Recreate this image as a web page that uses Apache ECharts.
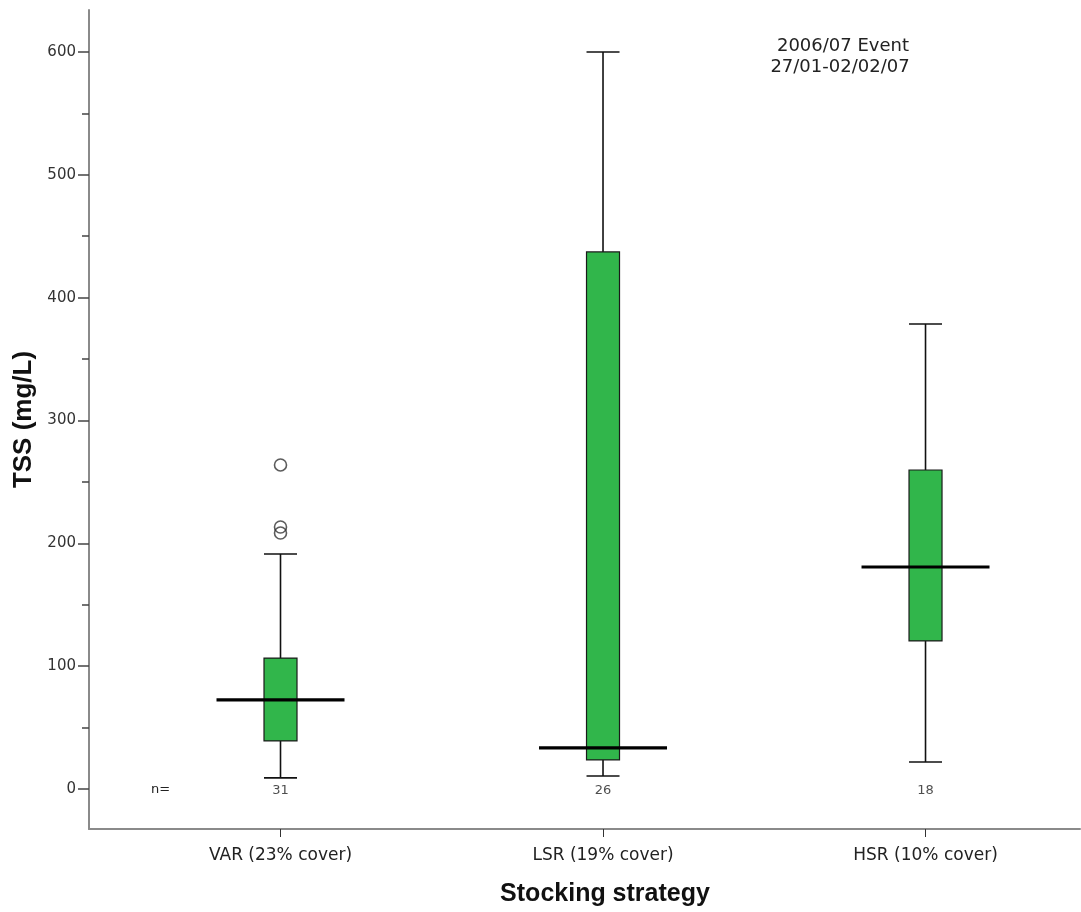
<!DOCTYPE html>
<html>
<head>
<meta charset="utf-8">
<title>TSS by stocking strategy</title>
<script src="https://cdn.jsdelivr.net/npm/echarts@6/dist/echarts.min.js"></script>
<style>
  html, body { margin: 0; padding: 0; background: #fff; }
  #chart { width: 1081px; height: 912px; }
</style>
</head>
<body>
<div id="chart"></div>
<script>
// Stocking strategies (x positions 1..3)
const categories = ['VAR (23% cover)', 'LSR (19% cover)', 'HSR (10% cover)'];
// Box statistics per strategy: [lower whisker, Q1, median, Q3, upper whisker] in mg/L
const boxStats = [
  [9.0, 39.1, 72.5, 106.6, 191.3],
  [10.6, 23.6, 33.4, 437.2, 600],
  [22.0, 120.5, 180.7, 259.7, 378.6]
];
// Outliers: [strategy index, value]
const outliers = [
  [0, 263.8],
  [0, 213.3],
  [0, 208.4]
];
// Sample sizes
const counts = [31, 26, 18];
// Y axis ticks
const majorTicks = [0, 100, 200, 300, 400, 500, 600];
const minorTicks = [50, 150, 250, 350, 450, 550];

const chart = echarts.init(document.getElementById('chart'));

const BOX_W = 33;      // box width in px
const MED_W = 128;     // median bar width in px
const TEXT_FONT = '"DejaVu Sans", Verdana, sans-serif';
const TITLE_FONT = '"Liberation Sans", Arial, sans-serif';

function renderBox(params, api) {
  const x = api.value(0);
  const lo = api.coord([x, api.value(1)]);
  const q1 = api.coord([x, api.value(2)]);
  const q3 = api.coord([x, api.value(4)]);
  const hi = api.coord([x, api.value(5)]);
  const cx = lo[0];
  const half = BOX_W / 2;
  const lineStyle = { stroke: '#111', lineWidth: 1.6 };
  return {
    type: 'group',
    children: [
      { type: 'line', shape: { x1: cx, y1: hi[1], x2: cx, y2: q3[1] }, style: lineStyle },
      { type: 'line', shape: { x1: cx, y1: q1[1], x2: cx, y2: lo[1] }, style: lineStyle },
      { type: 'line', shape: { x1: cx - half, y1: hi[1], x2: cx + half, y2: hi[1] }, style: lineStyle },
      { type: 'line', shape: { x1: cx - half, y1: lo[1], x2: cx + half, y2: lo[1] }, style: lineStyle },
      { type: 'rect', shape: { x: cx - half, y: q3[1], width: BOX_W, height: q1[1] - q3[1] },
        style: { fill: '#31b64b', stroke: '#1a1a1a', lineWidth: 1.2 } }
    ]
  };
}

function renderMedian(params, api) {
  const p = api.coord([api.value(0), api.value(1)]);
  return {
    type: 'line',
    shape: { x1: p[0] - MED_W / 2, y1: p[1], x2: p[0] + MED_W / 2, y2: p[1] },
    style: { stroke: '#000', lineWidth: 3.2 }
  };
}

const boxData = boxStats.map((s, i) => [i + 1, s[0], s[1], s[2], s[3], s[4]]);
const medianData = boxStats.map((s, i) => [i + 1, s[2]]);
const outlierData = outliers.map(o => [o[0] + 1, o[1]]);
const countData = counts.map((n, i) => ({ value: [i + 1, -1], n: n }));

const option = {
  animation: false,
  backgroundColor: '#fff',
  grid: { left: 89, right: 1, top: 10, bottom: 83, containLabel: false },
  xAxis: {
    type: 'value',
    min: 0.4062,
    max: 3.479,
    axisLine: { show: true, onZero: false, lineStyle: { color: '#8a8a8a', width: 2 } },
    axisTick: { show: true, length: 8, lineStyle: { color: '#333', width: 1 }, customValues: [1, 2, 3] },
    axisLabel: {
      customValues: [1, 2, 3],
      margin: 18,
      fontFamily: TEXT_FONT, fontSize: 17, color: '#222',
      formatter: v => categories[Math.round(v) - 1] || ''
    },
    splitLine: { show: false }
  },
  yAxis: [{
    type: 'value',
    min: -32.6,
    max: 634.2,
    name: 'TSS (mg/L)',
    nameLocation: 'middle',
    nameGap: 49,
    nameRotate: 90,
    nameTextStyle: { fontFamily: TITLE_FONT, fontSize: 26, fontWeight: 'bold', color: '#111' },
    axisLine: { show: true, onZero: false, lineStyle: { color: '#8a8a8a', width: 2 } },
    axisTick: { show: true, length: 11, lineStyle: { color: '#444', width: 1.5 }, customValues: majorTicks },
    axisLabel: { customValues: majorTicks, margin: 13, fontFamily: TEXT_FONT, fontSize: 15, color: '#333' },
    splitLine: { show: false }
  }, {
    type: 'value',
    min: -32.6,
    max: 634.2,
    position: 'left',
    axisLine: { show: false },
    axisTick: { show: true, length: 7, lineStyle: { color: '#444', width: 1.5 }, customValues: minorTicks },
    axisLabel: { show: false },
    splitLine: { show: false }
  }],
  series: [
    {
      type: 'custom',
      renderItem: renderBox,
      data: boxData,
      encode: { x: 0, y: [1, 2, 3, 4, 5] },
      z: 2
    },
    {
      type: 'custom',
      renderItem: renderMedian,
      data: medianData,
      encode: { x: 0, y: 1 },
      z: 3
    },
    {
      type: 'scatter',
      data: outlierData,
      symbol: 'circle',
      symbolSize: 12,
      itemStyle: { color: 'rgba(255,255,255,0)', borderColor: '#333', borderWidth: 1.6 },
      z: 4
    },
    {
      type: 'scatter',
      data: countData,
      symbolSize: 0,
      silent: true,
      label: {
        show: true, position: 'inside',
        fontFamily: TEXT_FONT, fontSize: 13, color: '#222',
        formatter: p => String(p.data.n)
      },
      z: 5
    }
  ],
  graphic: [
    { type: 'text', left: 151, top: 783,
      style: { text: 'n=', font: '13px ' + TEXT_FONT, fill: '#222' } },
    { type: 'text', x: 843, y: 37,
      style: { text: '2006/07 Event', font: '18px ' + TEXT_FONT, fill: '#222', textAlign: 'center' } },
    { type: 'text', x: 840, y: 58,
      style: { text: '27/01-02/02/07', font: '18px ' + TEXT_FONT, fill: '#222', textAlign: 'center' } },
    // x axis title
    { type: 'text', x: 605, y: 882,
      style: { text: 'Stocking strategy', font: 'bold 25px ' + TITLE_FONT, fill: '#111', textAlign: 'center' } }
  ]
};

chart.setOption(option);
</script>
</body>
</html>
